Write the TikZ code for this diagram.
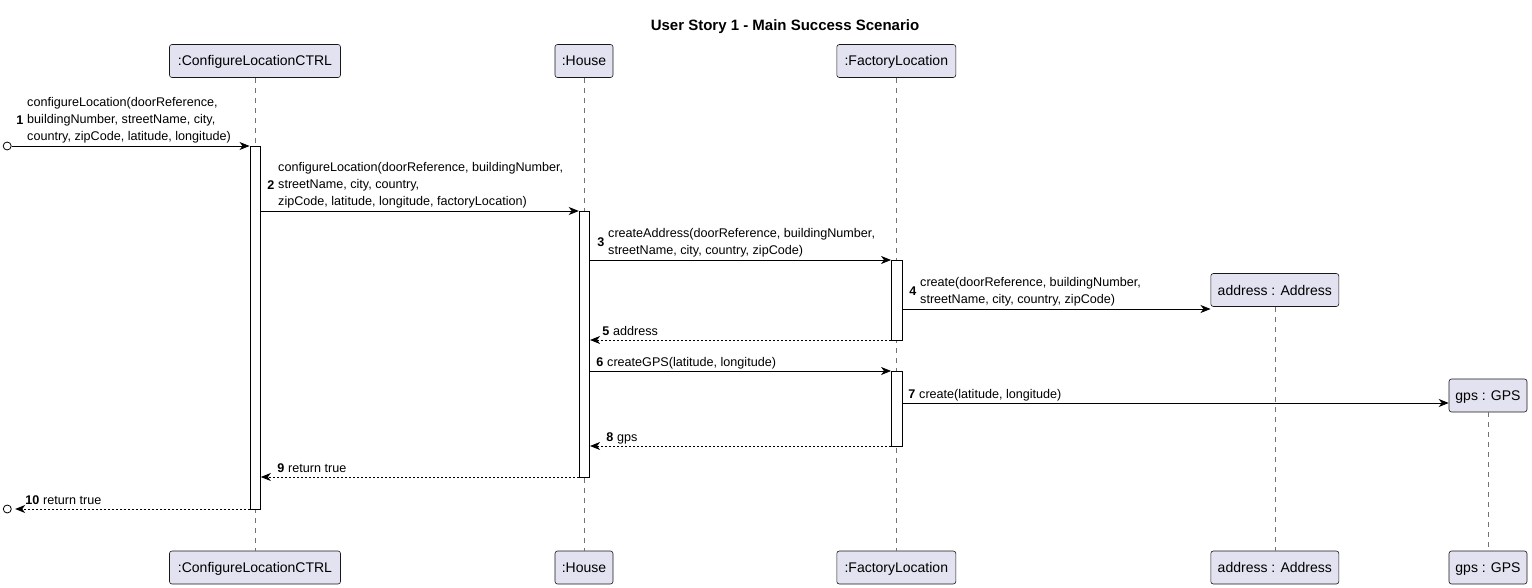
\documentclass[tikz,border=0pt]{standalone}
\usepackage{fontspec}
\setmainfont{Liberation Sans}
\usetikzlibrary{arrows.meta}
\definecolor{partfill}{HTML}{E2E2F0}
\definecolor{partline}{HTML}{181818}
\begin{document}
\begin{tikzpicture}[x=1pt,y=-1pt,
  part/.style={draw=partline, fill=partfill, rounded corners=2.5pt, line width=0.6pt,
    minimum height=33pt, inner sep=0pt, text height=10pt, text depth=0pt,
    font=\fontsize{14}{16}\selectfont},
  act/.style={draw=black, fill=white, line width=0.8pt, minimum width=10.5pt, inner sep=0pt},
  life/.style={draw=black!55, line width=0.5pt, dash pattern=on 5pt off 5pt},
  msgline/.style={draw=black, line width=0.8pt, -{Stealth[length=10pt,width=8pt,inset=3pt]}},
  ret/.style={msgline, dash pattern=on 2pt off 2pt},
  lbl/.style={inner sep=0pt, align=left, font=\fontsize{12.6}{17}\selectfont},
  num/.style={inner sep=0pt, font=\bfseries\fontsize{12.6}{17}\selectfont},
  endpt/.style={circle, draw=black, line width=0.8pt, fill=white, minimum size=8pt, inner sep=0pt}
]
\useasboundingbox (0,0) rectangle (1532,588);

% title
\node[font=\bfseries\fontsize{15}{18}\selectfont, anchor=base] (title) at (785,31) {User Story 1 - Main Success Scenario};

% participants (top)
\node[part, minimum width=171pt] (ctrlT) at (255,61) {:ConfigureLocationCTRL};
\node[part, minimum width=58pt] (houseT) at (584,61) {:House};
\node[part, minimum width=119pt] (facT) at (896.3,61) {:FactoryLocation};
\node[part, minimum width=128pt] (addrT) at (1274.8,290) {address : Address};
\node[part, minimum width=78pt] (gpsT) at (1488,395.5) {gps : GPS};
% participants (bottom)
\node[part, minimum width=171pt] (ctrlB) at (255,567.5) {:ConfigureLocationCTRL};
\node[part, minimum width=58pt] (houseB) at (584,567.5) {:House};
\node[part, minimum width=119pt] (facB) at (896.3,567.5) {:FactoryLocation};
\node[part, minimum width=128pt] (addrB) at (1274.8,567.5) {address : Address};
\node[part, minimum width=78pt] (gpsB) at (1488,567.5) {gps : GPS};

% lifelines
\draw[life] (ctrlT.south) -- (ctrlB.north);
\draw[life] (houseT.south) -- (houseB.north);
\draw[life] (facT.south) -- (facB.north);
\draw[life] (addrT.south) -- (addrB.north);
\draw[life] (gpsT.south) -- (gpsB.north);

% activations
\node[act, minimum height=363pt] (actC) at (255.2,327.6) {};
\node[act, minimum height=266pt] (actH) at (584.4,344.1) {};
\node[act, minimum height=80pt] (actF1) at (896.7,300) {};
\node[act, minimum height=75pt] (actF2) at (896.7,408.5) {};

% message 1
\node[endpt] (startpt) at (7.2,146) {};
\draw[msgline] (startpt.east) -- (actC.west |- 0,146);
\node[lbl, anchor=south west] (m1) at (27,143) {configureLocation(doorReference,\\buildingNumber, streetName, city,\\country, zipCode, latitude, longitude)};
\node[num, anchor=east] (n1) at ([xshift=-3.5pt]m1.west) {1};

% message 2
\draw[msgline] (actC.east |- 0,211) -- (actH.west |- 0,211);
\node[lbl, anchor=south west] (m2) at (278,208) {configureLocation(doorReference, buildingNumber,\\streetName, city, country,\\zipCode, latitude, longitude, factoryLocation)};
\node[num, anchor=east] (n2) at ([xshift=-3.5pt]m2.west) {2};

% message 3
\draw[msgline] (actH.east |- 0,260) -- (actF1.west |- 0,260);
\node[lbl, anchor=south west] (m3) at (608,257) {createAddress(doorReference, buildingNumber,\\streetName, city, country, zipCode)};
\node[num, anchor=east] (n3) at ([xshift=-3.5pt]m3.west) {3};

% message 4
\draw[msgline] (actF1.east |- 0,309) -- (addrT.west |- 0,309);
\node[lbl, anchor=south west] (m4) at (920,306) {create(doorReference, buildingNumber,\\streetName, city, country, zipCode)};
\node[num, anchor=east] (n4) at ([xshift=-3.5pt]m4.west) {4};

% message 5
\draw[ret] (actF1.west |- 0,340) -- (actH.east |- 0,340);
\node[lbl, anchor=base west] (m5) at (613,335) {address};
\node[num, anchor=base east] (n5) at ([xshift=-3.5pt]m5.base west) {5};

% message 6
\draw[msgline] (actH.east |- 0,371) -- (actF2.west |- 0,371);
\node[lbl, anchor=base west] (m6) at (607,366) {createGPS(latitude, longitude)};
\node[num, anchor=base east] (n6) at ([xshift=-3.5pt]m6.base west) {6};

% message 7
\draw[msgline] (actF2.east |- 0,403) -- (gpsT.west |- 0,403);
\node[lbl, anchor=base west] (m7) at (919,398) {create(latitude, longitude)};
\node[num, anchor=base east] (n7) at ([xshift=-3.5pt]m7.base west) {7};

% message 8
\draw[ret] (actF2.west |- 0,446) -- (actH.east |- 0,446);
\node[lbl, anchor=base west] (m8) at (617,441) {gps};
\node[num, anchor=base east] (n8) at ([xshift=-3.5pt]m8.base west) {8};

% message 9
\draw[ret] (actH.west |- 0,477) -- (actC.east |- 0,477);
\node[lbl, anchor=base west] (m9) at (288,472) {return true};
\node[num, anchor=base east] (n9) at ([xshift=-3.5pt]m9.base west) {9};

% message 10
\node[endpt] (endpt10) at (7.3,509) {};
\draw[ret, shorten >=3.5pt] (actC.west |- 0,509) -- (endpt10.east);
\node[lbl, anchor=base west] (m10) at (43,504) {return true};
\node[num, anchor=base east] (n10) at ([xshift=-3.5pt]m10.base west) {10};
\end{tikzpicture}
\end{document}
